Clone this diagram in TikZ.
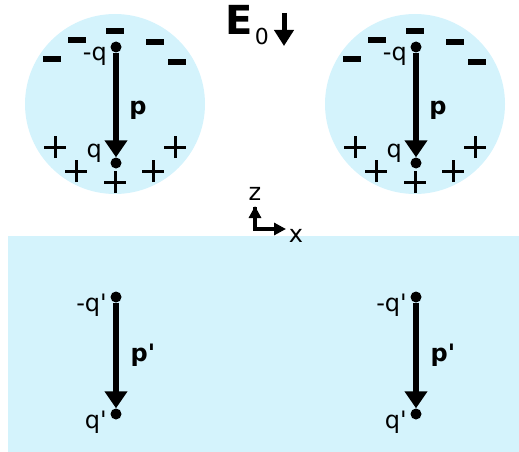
\documentclass[tikz,border=0pt]{standalone}
\usepackage{fontspec}
\setmainfont{DejaVu Sans}[Ligatures=TeXOff]
\usetikzlibrary{arrows.meta}
\definecolor{lblue}{RGB}{212,243,252}
\tikzset{
  dipline/.style={line width=5.5pt,-{Triangle[width=22pt,length=17pt]}},
  chargedot/.style={circle,fill=black,inner sep=0pt,minimum size=11pt},
  minussign/.style={line width=5.5pt},
  plussign/.style={line width=3pt},
  lbl/.style={inner sep=0pt,font=\fontsize{24}{24}\selectfont},
  blbl/.style={inner sep=0pt,font=\fontsize{24}{24}\selectfont\bfseries},
  axarrow/.style={line width=3.5pt,-{Triangle[width=12pt,length=12pt]}},
}
\newcommand{\mysign}[2]{\draw[minussign] (#1-9,-#2) -- (#1+9,-#2);}
\newcommand{\myplus}[2]{\draw[plussign] (#1-11,-#2) -- (#1+11,-#2) (#1,-#2-11) -- (#1,-#2+11);}
\begin{document}
\begin{tikzpicture}[x=1pt,y=1pt]
\useasboundingbox (0,0) rectangle (519,-452);
% half-space
\fill[lblue] (8,-236) rectangle (519,-452);
% spheres
\foreach \dx/\n in {0/L,300/R}{
  \fill[lblue] (115+\dx,-104) circle (90);
  \node[chargedot] (t\n) at (116+\dx,-47) {};
  \node[chargedot] (b\n) at (116+\dx,-163) {};
  \draw[dipline] (t\n) -- (b\n);
  \node[lbl,anchor=east] (mq\n) at (107+\dx,-56) {-q};
  \node[lbl,anchor=east] (q\n) at (102+\dx,-153) {q};
  \node[blbl] (p\n) at (138+\dx,-110) {p};
  \mysign{115+\dx}{31}
  \mysign{77+\dx}{40}
  \mysign{52+\dx}{59}
  \mysign{155+\dx}{42}
  \mysign{177+\dx}{62}
  \myplus{55+\dx}{147}
  \myplus{76+\dx}{171}
  \myplus{115+\dx}{182}
  \myplus{153+\dx}{171}
  \myplus{175+\dx}{147}
  % images
  \node[chargedot] (ti\n) at (116+\dx,-297) {};
  \node[chargedot] (bi\n) at (116+\dx,-414) {};
  \draw[dipline] (ti\n) -- (bi\n);
  \node[lbl,anchor=east] (mqi\n) at (107+\dx,-305) {-q'};
  \node[lbl,anchor=east] (qi\n) at (107+\dx,-422) {q'};
  \node[blbl] (pi\n) at (143+\dx,-355) {p'};
}
% field
\node[inner sep=0pt,anchor=base west,font=\fontsize{40}{40}\selectfont\bfseries] (E) at (225,-35) {E};
\node[inner sep=0pt,anchor=base west,font=\fontsize{22}{22}\selectfont] (E0) at ([xshift=2pt,yshift=-10pt]E.base east) {0};
\coordinate (ea) at (284,-13);
\coordinate (eb) at (284,-46);
\draw[line width=5pt,-{Triangle[width=19pt,length=16pt]}] (ea) -- (eb);
% axes
\coordinate (o) at (255,-229);
\coordinate (ox) at (286,-229);
\draw[axarrow,line join=miter] (255,-207) -- (o) -- (ox);
\draw[line width=3.5pt,-{Triangle[width=12pt,length=12pt]}] (o) -- (255,-206);
\node[lbl] (zl) at (255,-194) {z};
\node[lbl] (xl) at (296,-236) {x};
\end{tikzpicture}
\end{document}
